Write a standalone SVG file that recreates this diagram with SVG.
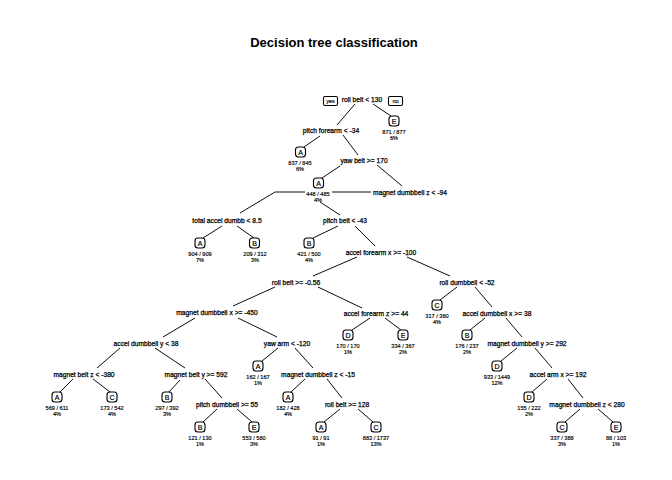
<svg xmlns="http://www.w3.org/2000/svg" width="672" height="480" viewBox="0 0 672 480">
<style>
text{font-family:"Liberation Sans",Arial,sans-serif;fill:#000;text-anchor:middle}
.t{font-size:13px;font-weight:bold}
.s{font-size:6.7px;stroke:#000;stroke-width:0.25}
.n{font-size:5.6px;stroke:#000;stroke-width:0.15}
.l{font-size:7px;stroke:#000;stroke-width:0.2}
.yn{font-size:5.6px;stroke:#000;stroke-width:0.15}
.box{fill:#fff;stroke:#000;stroke-width:1.1}
#edges line{stroke:#000;stroke-width:0.95}
</style>
<rect width="672" height="480" fill="#fff"/>
<text class="t" x="334" y="47">Decision tree classification</text>
<g id="edges">
<line x1="355" y1="104" x2="337" y2="125"/>
<line x1="373" y1="104" x2="391" y2="116"/>
<line x1="320" y1="136" x2="304" y2="147"/>
<line x1="343" y1="135" x2="358" y2="155"/>
<line x1="340" y1="166" x2="322" y2="178"/>
<line x1="377" y1="165" x2="402" y2="186"/>
<line x1="275" y1="192" x2="305" y2="192"/>
<line x1="332" y1="192" x2="371" y2="192"/>
<line x1="275" y1="192" x2="240" y2="213"/>
<line x1="320" y1="202" x2="340" y2="215"/>
<line x1="222" y1="226" x2="203" y2="238"/>
<line x1="237" y1="226" x2="254" y2="238"/>
<line x1="338" y1="226" x2="313" y2="238"/>
<line x1="355" y1="226" x2="375" y2="246"/>
<line x1="357" y1="257" x2="313" y2="276"/>
<line x1="407" y1="257" x2="450" y2="276"/>
<line x1="275" y1="287" x2="233" y2="306"/>
<line x1="318" y1="287" x2="362" y2="308"/>
<line x1="457" y1="287" x2="440" y2="300"/>
<line x1="475" y1="287" x2="492" y2="307"/>
<line x1="195" y1="318" x2="163" y2="337"/>
<line x1="238" y1="318" x2="277" y2="337"/>
<line x1="370" y1="318" x2="352" y2="330"/>
<line x1="385" y1="318" x2="401" y2="330"/>
<line x1="485" y1="318" x2="470" y2="330"/>
<line x1="506" y1="318" x2="522" y2="337"/>
<line x1="120" y1="348" x2="97" y2="368"/>
<line x1="155" y1="348" x2="185" y2="368"/>
<line x1="278" y1="348" x2="262" y2="361"/>
<line x1="295" y1="348" x2="313" y2="368"/>
<line x1="517" y1="348" x2="501" y2="361"/>
<line x1="535" y1="348" x2="552" y2="368"/>
<line x1="73" y1="379" x2="60" y2="392"/>
<line x1="93" y1="379" x2="110" y2="392"/>
<line x1="180" y1="380" x2="169" y2="392"/>
<line x1="205" y1="379" x2="222" y2="398"/>
<line x1="305" y1="379" x2="291" y2="392"/>
<line x1="327" y1="379" x2="342" y2="398"/>
<line x1="547" y1="379" x2="532" y2="392"/>
<line x1="568" y1="379" x2="583" y2="398"/>
<line x1="217" y1="409" x2="203" y2="422"/>
<line x1="237" y1="409" x2="252" y2="422"/>
<line x1="340" y1="409" x2="324" y2="422"/>
<line x1="358" y1="409" x2="373" y2="422"/>
<line x1="580" y1="409" x2="565" y2="422"/>
<line x1="598" y1="409" x2="613" y2="422"/>
</g>
<g id="yesno">
<rect class="box" x="323.5" y="96.5" width="14" height="9" rx="1.5"/>
<text class="yn" x="330.5" y="103">yes</text>
<rect class="box" x="388.5" y="96.5" width="14" height="9" rx="1.5"/>
<text class="yn" x="395.5" y="103">no</text>
</g>
<g id="s1"><text class="s" x="362" y="101.5">roll belt &lt; 130</text></g>
<g id="s2"><text class="s" x="331" y="132.5">pitch forearm &lt; -34</text></g>
<g id="s5"><text class="s" x="364" y="162.5">yaw belt &gt;= 170</text></g>
<g id="s11"><text class="s" x="410" y="194.5">magnet dumbbell z &lt; -94</text></g>
<g id="s22"><text class="s" x="227" y="222.5">total accel dumbb &lt; 8.5</text></g>
<g id="s23"><text class="s" x="345" y="222.5">pitch belt &lt; -43</text></g>
<g id="s47"><text class="s" x="381" y="254.5">accel forearm x &gt;= -100</text></g>
<g id="s94"><text class="s" x="296" y="284.5">roll belt &gt;= -0.56</text></g>
<g id="s95"><text class="s" x="467" y="284.5">roll dumbbell &lt; -52</text></g>
<g id="s188"><text class="s" x="217" y="314.5">magnet dumbbell x &gt;= -450</text></g>
<g id="s189"><text class="s" x="376" y="315.5">accel forearm z &gt;= 44</text></g>
<g id="s191"><text class="s" x="497" y="315.5">accel dumbbell x &gt;= 38</text></g>
<g id="s376"><text class="s" x="146" y="345.5">accel dumbbell y &lt; 38</text></g>
<g id="s377"><text class="s" x="287" y="345.5">yaw arm &lt; -120</text></g>
<g id="s383"><text class="s" x="527" y="345.5">magnet dumbbell y &gt;= 292</text></g>
<g id="s752"><text class="s" x="84" y="376.5">magnet belt z &lt; -380</text></g>
<g id="s753"><text class="s" x="196" y="376.5">magnet belt y &gt;= 592</text></g>
<g id="s755"><text class="s" x="318" y="376.5">magnet dumbbell z &lt; -15</text></g>
<g id="s767"><text class="s" x="558" y="376.5">accel arm x &gt;= 192</text></g>
<g id="s1507"><text class="s" x="227" y="406.5">pitch dumbbell &gt;= 55</text></g>
<g id="s1511"><text class="s" x="347" y="406.5">roll belt &gt;= 128</text></g>
<g id="s1535"><text class="s" x="587" y="406.5">magnet dumbbell z &lt; 280</text></g>

<g id="L3"><rect class="box" x="389" y="116" width="10" height="10" rx="3"/><text class="l" x="394" y="123.5">E</text><text class="n" x="394" y="134">871 / 877</text><text class="n" x="394" y="140">6%</text></g>
<g id="L4"><rect class="box" x="295.5" y="147" width="10" height="10" rx="3"/><text class="l" x="300.5" y="154.5">A</text><text class="n" x="300" y="165">837 / 845</text><text class="n" x="300" y="171">6%</text></g>
<g id="L10"><rect class="box" x="313.5" y="178" width="10" height="10" rx="3"/><text class="l" x="318.5" y="185.5">A</text><text class="n" x="318" y="196">448 / 485</text><text class="n" x="318" y="202">4%</text></g>
<g id="L44"><rect class="box" x="195" y="238" width="10" height="10" rx="3"/><text class="l" x="200" y="245.5">A</text><text class="n" x="200" y="256">904 / 909</text><text class="n" x="200" y="262">7%</text></g>
<g id="L45"><rect class="box" x="249.5" y="238" width="10" height="10" rx="3"/><text class="l" x="254.5" y="245.5">B</text><text class="n" x="255" y="256">209 / 312</text><text class="n" x="255" y="262">3%</text></g>
<g id="L46"><rect class="box" x="304" y="238" width="10" height="10" rx="3"/><text class="l" x="309" y="245.5">B</text><text class="n" x="309" y="256">421 / 500</text><text class="n" x="309" y="262">4%</text></g>
<g id="L190"><rect class="box" x="432" y="300" width="10" height="10" rx="3"/><text class="l" x="437" y="307.5">C</text><text class="n" x="437" y="318">317 / 380</text><text class="n" x="437" y="324">4%</text></g>
<g id="L378"><rect class="box" x="343" y="330" width="10" height="10" rx="3"/><text class="l" x="348" y="337.5">D</text><text class="n" x="348" y="348">170 / 170</text><text class="n" x="348" y="354">1%</text></g>
<g id="L379"><rect class="box" x="398" y="330" width="10" height="10" rx="3"/><text class="l" x="403" y="337.5">E</text><text class="n" x="403" y="348">334 / 367</text><text class="n" x="403" y="354">2%</text></g>
<g id="L382"><rect class="box" x="462" y="330" width="10" height="10" rx="3"/><text class="l" x="467" y="337.5">B</text><text class="n" x="467" y="348">176 / 237</text><text class="n" x="467" y="354">2%</text></g>
<g id="L754"><rect class="box" x="253" y="361" width="10" height="10" rx="3"/><text class="l" x="258" y="368.5">A</text><text class="n" x="258" y="379">162 / 167</text><text class="n" x="258" y="385">1%</text></g>
<g id="L766"><rect class="box" x="492" y="361" width="10" height="10" rx="3"/><text class="l" x="497" y="368.5">D</text><text class="n" x="497" y="379">933 / 1449</text><text class="n" x="497" y="385">12%</text></g>
<g id="L1504"><rect class="box" x="52" y="392" width="10" height="10" rx="3"/><text class="l" x="57" y="399.5">A</text><text class="n" x="57" y="410">569 / 611</text><text class="n" x="57" y="416">4%</text></g>
<g id="L1505"><rect class="box" x="107" y="392" width="10" height="10" rx="3"/><text class="l" x="112" y="399.5">C</text><text class="n" x="112" y="410">173 / 542</text><text class="n" x="112" y="416">4%</text></g>
<g id="L1506"><rect class="box" x="162" y="392" width="10" height="10" rx="3"/><text class="l" x="167" y="399.5">B</text><text class="n" x="167" y="410">297 / 392</text><text class="n" x="167" y="416">3%</text></g>
<g id="L1510"><rect class="box" x="283" y="392" width="10" height="10" rx="3"/><text class="l" x="288" y="399.5">A</text><text class="n" x="288" y="410">182 / 428</text><text class="n" x="288" y="416">4%</text></g>
<g id="L1534"><rect class="box" x="524" y="392" width="10" height="10" rx="3"/><text class="l" x="529" y="399.5">D</text><text class="n" x="529" y="410">155 / 222</text><text class="n" x="529" y="416">2%</text></g>
<g id="L3014"><rect class="box" x="195" y="422" width="10" height="10" rx="3"/><text class="l" x="200" y="429.5">B</text><text class="n" x="200" y="440">121 / 130</text><text class="n" x="200" y="446">1%</text></g>
<g id="L3015"><rect class="box" x="249" y="422" width="10" height="10" rx="3"/><text class="l" x="254" y="429.5">E</text><text class="n" x="254" y="440">553 / 580</text><text class="n" x="254" y="446">3%</text></g>
<g id="L3022"><rect class="box" x="316" y="422" width="10" height="10" rx="3"/><text class="l" x="321" y="429.5">A</text><text class="n" x="321" y="440">91 / 91</text><text class="n" x="321" y="446">1%</text></g>
<g id="L3023"><rect class="box" x="371" y="422" width="10" height="10" rx="3"/><text class="l" x="376" y="429.5">C</text><text class="n" x="376" y="440">883 / 1737</text><text class="n" x="376" y="446">13%</text></g>
<g id="L3070"><rect class="box" x="557" y="422" width="10" height="10" rx="3"/><text class="l" x="562" y="429.5">C</text><text class="n" x="562" y="440">337 / 388</text><text class="n" x="562" y="446">3%</text></g>
<g id="L3071"><rect class="box" x="611" y="422" width="10" height="10" rx="3"/><text class="l" x="616" y="429.5">E</text><text class="n" x="616" y="440">88 / 103</text><text class="n" x="616" y="446">1%</text></g>
</svg>
